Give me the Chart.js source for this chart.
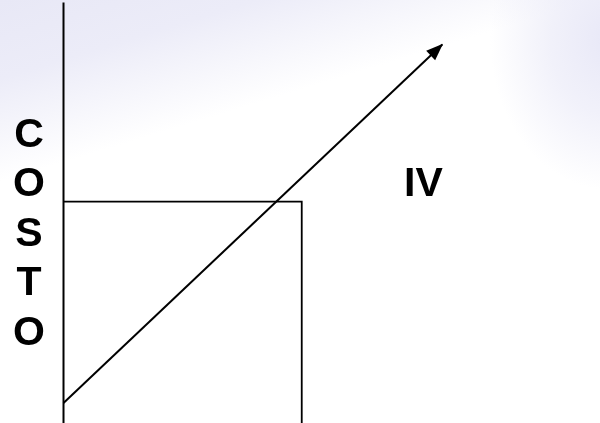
<!DOCTYPE html>
<html>
<head>
<meta charset="utf-8">
<script src="https://cdn.jsdelivr.net/npm/chart.js@4/dist/chart.umd.min.js"></script>
<style>
  html, body { margin: 0; padding: 0; }
  body {
    width: 600px; height: 423px; overflow: hidden;
    background:
      radial-gradient(ellipse 120px 150px at 610px 40px, rgba(232,232,247,1) 0%, rgba(232,232,247,0.6) 50%, rgba(232,232,247,0) 100%),
      linear-gradient(163deg, #e8e8f6 0%, #ececf8 13%, rgba(255,255,255,0) 30%),
      #ffffff;
  }
  #wrap { position: relative; width: 600px; height: 423px; }
</style>
</head>
<body>
<div id="wrap"><canvas id="c" width="600" height="423"></canvas></div>
<script>
// Data (quantity on x, cost on y)
const costAxisX = [0, 0];
const costAxisY = [0, 19];
const fixedCostX = [0, 10, 10];
const fixedCostY = [10, 10, 0];
const variableCostX = [0, 15.9];
const variableCostY = [0.9, 17.1];
const yTitleLetters = ['C', 'O', 'S', 'T', 'O'];
const regionLabel = 'IV';

const toPts = (xs, ys) => xs.map((x, i) => ({ x: x, y: ys[i] }));

const arrowPlugin = {
  id: 'arrowHead',
  afterDatasetsDraw(chart) {
    const meta = chart.getDatasetMeta(2);
    const pts = meta.data;
    if (!pts || pts.length < 2) return;
    const a = pts[pts.length - 2], b = pts[pts.length - 1];
    const ang = Math.atan2(b.y - a.y, b.x - a.x);
    const len = 16, half = 6.5;
    const ctx = chart.ctx;
    ctx.save();
    ctx.translate(b.x, b.y);
    ctx.rotate(ang);
    ctx.beginPath();
    ctx.moveTo(1, 0);
    ctx.lineTo(-len, -half);
    ctx.lineTo(-len, half);
    ctx.closePath();
    ctx.fillStyle = '#000';
    ctx.fill();
    ctx.restore();
  }
};

const textPlugin = {
  id: 'labels',
  afterDraw(chart) {
    const ctx = chart.ctx;
    ctx.save();
    ctx.fillStyle = '#000';
    ctx.font = 'bold 41px "Liberation Sans", Arial, sans-serif';
    ctx.textBaseline = 'alphabetic';
    ctx.textAlign = 'center';
    yTitleLetters.forEach((ch, i) => {
      ctx.fillText(ch, 29, 146.5 + i * 49.5);
    });
    ctx.textAlign = 'left';
    ctx.fillText(regionLabel, 404, 196);
    ctx.restore();
  }
};

new Chart(document.getElementById('c'), {
  type: 'scatter',
  data: {
    datasets: [
      { label: 'Eje costo', data: toPts(costAxisX, costAxisY), showLine: true, borderColor: '#000', borderWidth: 2, pointRadius: 0, clip: false },
      { label: 'Costo fijo', data: toPts(fixedCostX, fixedCostY), showLine: true, borderColor: '#000', borderWidth: 1.8, pointRadius: 0, clip: false },
      { label: 'Costo variable', data: toPts(variableCostX, variableCostY), showLine: true, borderColor: '#000', borderWidth: 2, pointRadius: 0, clip: false }
    ]
  },
  options: {
    responsive: false,
    animation: false,
    layout: { padding: 0 },
    plugins: { legend: { display: false }, tooltip: { enabled: false }, title: { display: false } },
    scales: {
      x: { type: 'linear', min: -2.666, max: 22.52, display: false },
      y: { type: 'linear', min: 0, max: 19.11, display: false }
    }
  },
  plugins: [arrowPlugin, textPlugin]
});
</script>
</body>
</html>
